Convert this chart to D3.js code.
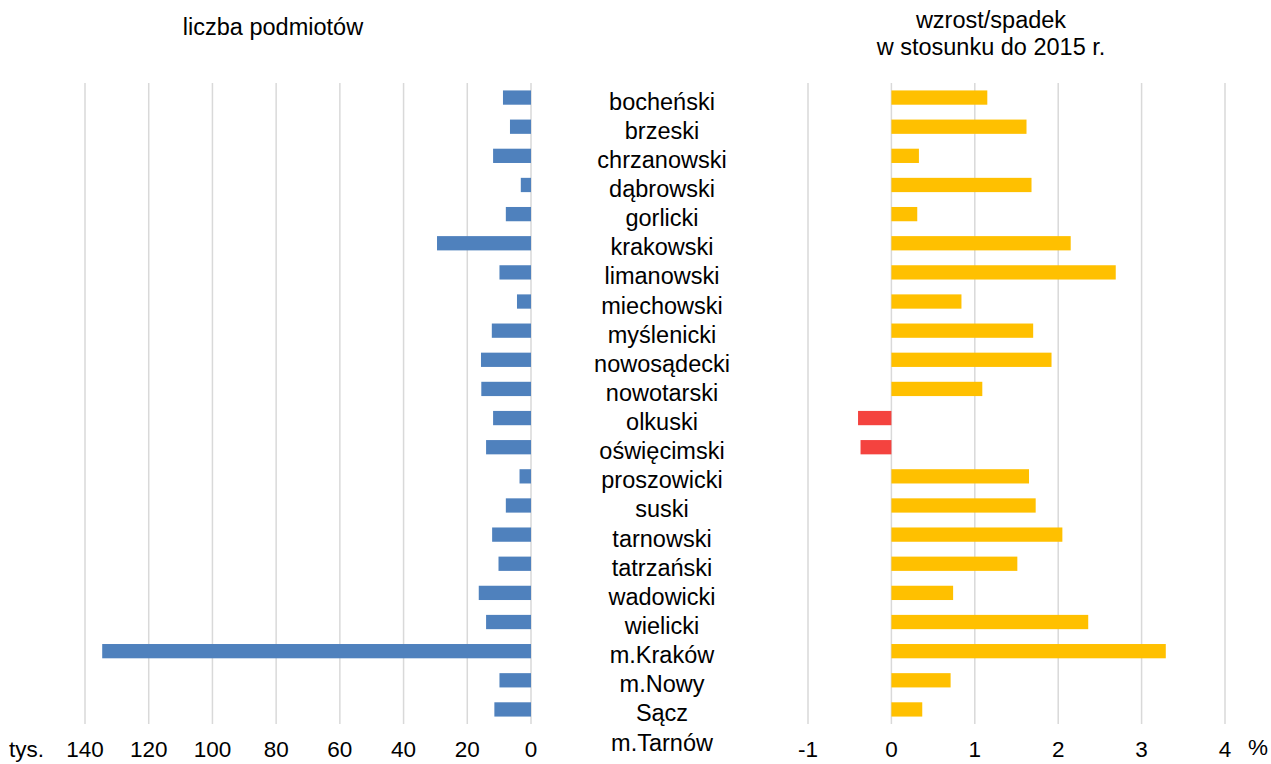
<!DOCTYPE html>
<html>
<head>
<meta charset="utf-8">
<script src="https://cdn.jsdelivr.net/npm/d3@7"></script>
<style>
  html, body { margin: 0; padding: 0; background: #fff; }
  text { font-family: "Liberation Sans", Arial, sans-serif; fill: #000; }
</style>
</head>
<body>
<svg id="chart" width="1271" height="764"></svg>
<script>
const categories = ["bocheński","brzeski","chrzanowski","dąbrowski","gorlicki","krakowski","limanowski","miechowski","myślenicki","nowosądecki","nowotarski","olkuski","oświęcimski","proszowicki","suski","tarnowski","tatrzański","wadowicki","wielicki","m.Kraków","m.Nowy Sącz","m.Tarnów"];
// liczba podmiotów (tys.)
const entities = [8.8, 6.6, 11.9, 3.2, 7.9, 29.5, 9.9, 4.4, 12.3, 15.7, 15.6, 11.9, 14.1, 3.6, 7.9, 12.2, 10.2, 16.4, 14.1, 134.6, 9.9, 11.5];
// wzrost/spadek w stosunku do 2015 r. (%)
const change = [1.15, 1.62, 0.33, 1.68, 0.31, 2.15, 2.69, 0.84, 1.70, 1.92, 1.09, -0.40, -0.37, 1.65, 1.73, 2.05, 1.51, 0.74, 2.36, 3.29, 0.71, 0.37];
const leftTicks = [0, 20, 40, 60, 80, 100, 120, 140];
const rightTicks = [-1, 0, 1, 2, 3, 4];

const svg = d3.select("#chart");

const y = d3.scaleBand().domain(categories).range([83, 724]).paddingInner(0.51).paddingOuter(0.255);
const xL = d3.scaleLinear().domain([0, 140]).range([531, 85]);
const xR = d3.scaleLinear().domain([-1, 4]).range([808, 1225]);

const gridTop = 83, gridBottom = 724;
const grid = "#d9d9d9";
const fs = 23.5;
const tfs = 22.5;

// left grid
svg.append("g").selectAll("line").data(leftTicks).join("line")
  .attr("x1", d => xL(d)).attr("x2", d => xL(d))
  .attr("y1", gridTop).attr("y2", gridBottom)
  .attr("stroke", grid).attr("stroke-width", 1.5);
// right grid
svg.append("g").selectAll("line").data(rightTicks).join("line")
  .attr("x1", d => xR(d)).attr("x2", d => xR(d))
  .attr("y1", gridTop).attr("y2", gridBottom)
  .attr("stroke", grid).attr("stroke-width", 1.5);

// left bars
svg.append("g").selectAll("rect").data(categories).join("rect")
  .attr("x", (d, i) => xL(entities[i]))
  .attr("width", (d, i) => xL(0) - xL(entities[i]))
  .attr("y", d => y(d)).attr("height", y.bandwidth())
  .attr("fill", "#4f81bd");

// right bars
svg.append("g").selectAll("rect").data(categories).join("rect")
  .attr("x", (d, i) => xR(Math.min(0, change[i])))
  .attr("width", (d, i) => Math.abs(xR(change[i]) - xR(0)))
  .attr("y", d => y(d)).attr("height", y.bandwidth())
  .attr("fill", (d, i) => change[i] < 0 ? "#f4433f" : "#ffc000");

// category labels (wrapped at spaces, lines stacked one per row as in the original)
const lines = [];
categories.forEach(c => c.split(" ").forEach(w => lines.push(w)));
const step = y.step();
const firstCenter = y(categories[0]) + y.bandwidth() / 2;
svg.append("g").selectAll("text").data(lines).join("text")
  .attr("x", 662)
  .attr("y", (d, i) => firstCenter + i * step + 12)
  .attr("text-anchor", "middle")
  .attr("font-size", fs)
  .text(d => d);

// axis tick labels
const tickY = 757;
svg.append("g").selectAll("text").data(leftTicks).join("text")
  .attr("x", d => xL(d)).attr("y", tickY)
  .attr("text-anchor", "middle").attr("font-size", tfs)
  .text(d => d);
svg.append("g").selectAll("text").data(rightTicks).join("text")
  .attr("x", d => xR(d)).attr("y", tickY)
  .attr("text-anchor", "middle").attr("font-size", tfs)
  .text(d => d);
svg.append("text").attr("x", 9).attr("y", tickY).attr("font-size", tfs).text("tys.");
svg.append("text").attr("x", 1248).attr("y", 755).attr("font-size", tfs).text("%");

// titles
svg.append("text").attr("x", 273).attr("y", 35).attr("text-anchor", "middle").attr("font-size", fs).text("liczba podmiotów");
svg.append("text").attr("x", 991).attr("y", 28).attr("text-anchor", "middle").attr("font-size", fs).text("wzrost/spadek");
svg.append("text").attr("x", 991).attr("y", 55).attr("text-anchor", "middle").attr("font-size", fs).text("w stosunku do 2015 r.");
</script>
</body>
</html>
